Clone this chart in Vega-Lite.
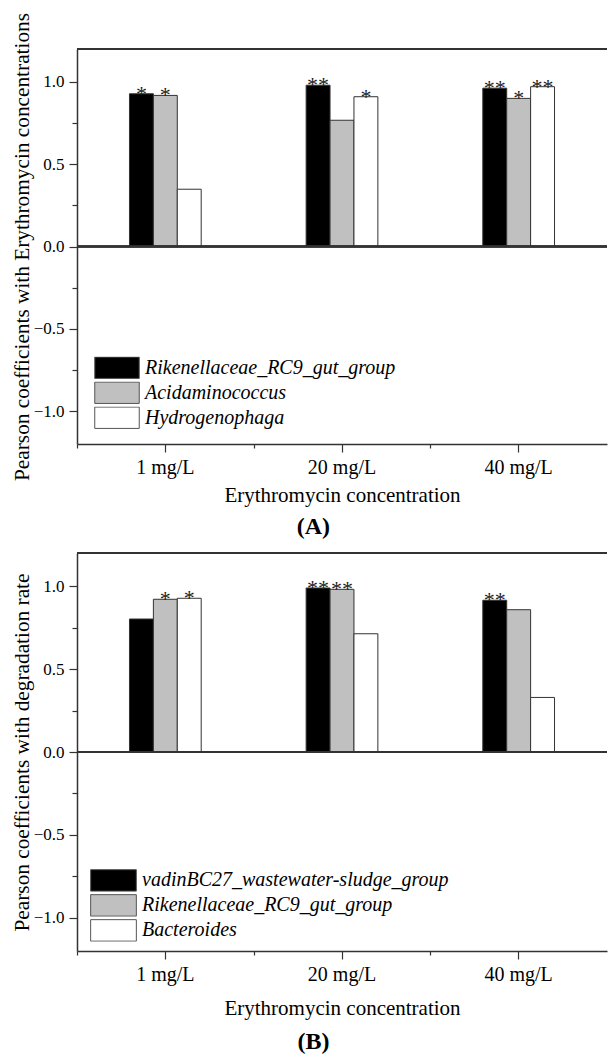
{
  "$schema": "https://vega.github.io/schema/vega-lite/v6.json",
  "background": "white",
  "padding": {"left": 11, "top": 12, "right": 0, "bottom": 0},
  "datasets": {
    "A": [
      {"conc": "1 mg/L", "species": "Rikenellaceae_RC9_gut_group", "value": 0.928, "sig": "*"},
      {"conc": "1 mg/L", "species": "Acidaminococcus", "value": 0.918, "sig": "*"},
      {"conc": "1 mg/L", "species": "Hydrogenophaga", "value": 0.348, "sig": ""},
      {"conc": "20 mg/L", "species": "Rikenellaceae_RC9_gut_group", "value": 0.98, "sig": "**"},
      {"conc": "20 mg/L", "species": "Acidaminococcus", "value": 0.767, "sig": ""},
      {"conc": "20 mg/L", "species": "Hydrogenophaga", "value": 0.91, "sig": "*"},
      {"conc": "40 mg/L", "species": "Rikenellaceae_RC9_gut_group", "value": 0.962, "sig": "**"},
      {"conc": "40 mg/L", "species": "Acidaminococcus", "value": 0.9, "sig": "*"},
      {"conc": "40 mg/L", "species": "Hydrogenophaga", "value": 0.971, "sig": "**"}
    ],
    "B": [
      {"conc": "1 mg/L", "species": "vadinBC27_wastewater-sludge_group", "value": 0.802, "sig": ""},
      {"conc": "1 mg/L", "species": "Rikenellaceae_RC9_gut_group", "value": 0.921, "sig": "*"},
      {"conc": "1 mg/L", "species": "Bacteroides", "value": 0.927, "sig": "*"},
      {"conc": "20 mg/L", "species": "vadinBC27_wastewater-sludge_group", "value": 0.989, "sig": "**"},
      {"conc": "20 mg/L", "species": "Rikenellaceae_RC9_gut_group", "value": 0.981, "sig": "**"},
      {"conc": "20 mg/L", "species": "Bacteroides", "value": 0.713, "sig": ""},
      {"conc": "40 mg/L", "species": "vadinBC27_wastewater-sludge_group", "value": 0.915, "sig": "**"},
      {"conc": "40 mg/L", "species": "Rikenellaceae_RC9_gut_group", "value": 0.858, "sig": ""},
      {"conc": "40 mg/L", "species": "Bacteroides", "value": 0.329, "sig": ""}
    ]
  },
  "spacing": 109,
  "bounds": "flush",
  "resolve": {
    "scale": {"color": "independent", "xOffset": "independent", "x": "independent", "y": "independent"},
    "legend": {"color": "independent"}
  },
  "vconcat": [
    {
      "width": 530,
      "height": 395,
      "data": {"name": "A"},
      "title": {"text": "(A)", "orient": "bottom", "anchor": "middle", "frame": "bounds", "offset": 10, "dx": 4, "font": "Liberation Serif", "fontSize": 24, "fontWeight": "bold", "color": "#000"},
      "resolve": {"axis": {"x": "independent", "y": "independent"}},
      "layer": [
        {
          "mark": {"type": "bar", "stroke": "#333", "strokeWidth": 1},
          "encoding": {
            "x": {"field": "conc", "type": "nominal", "sort": ["1 mg/L", "20 mg/L", "40 mg/L"], "scale": {"paddingInner": 0.594, "paddingOuter": 0.297},
              "axis": {"orient": "bottom", "title": "Erythromycin concentration", "titleFontSize": 21, "titlePadding": 7, "labelFontSize": 20, "labelPadding": 5, "labelAngle": 0, "tickSize": 8}},
            "xOffset": {"field": "species", "type": "nominal", "scale": {"domain": ["Rikenellaceae_RC9_gut_group", "Acidaminococcus", "Hydrogenophaga"], "paddingInner": 0, "paddingOuter": 0}},
            "y": {"field": "value", "type": "quantitative", "scale": {"domain": [-1.2, 1.2], "nice": false, "zero": false},
              "axis": {"orient": "left", "values": [-1, -0.5, 0, 0.5, 1], "format": ".1f", "tickSize": 8, "labelFontSize": 17, "labelPadding": 5, "title": "Pearson coefficients with Erythromycin concentrations", "titleFontSize": 21.3, "titlePadding": 1}},
            "color": {"field": "species", "type": "nominal", "scale": {"domain": ["Rikenellaceae_RC9_gut_group", "Acidaminococcus", "Hydrogenophaga"], "range": ["#000000", "#c0c0c0", "#ffffff"]},
              "legend": {"title": null, "orient": "none", "legendX": 17, "legendY": 307.5, "clipHeight": 22.5, "symbolType": "M-1,-0.48H1V0.48H-1Z", "symbolSize": 1980, "symbolStrokeColor": "#555", "symbolStrokeWidth": 1, "symbolOpacity": 1, "labelFont": "Liberation Serif", "labelFontStyle": "italic", "labelFontSize": 20, "labelColor": "#000", "labelOffset": 5, "rowPadding": 2, "labelLimit": 500}}
          }
        },
        {
          "mark": {"type": "text", "font": "Liberation Serif", "fontSize": 22, "baseline": "alphabetic", "align": "center", "dy": 7, "color": "#222"},
          "encoding": {
            "x": {"field": "conc", "type": "nominal", "sort": ["1 mg/L", "20 mg/L", "40 mg/L"], "scale": {"paddingInner": 0.594, "paddingOuter": 0.297},
              "axis": {"orient": "bottom", "title": null, "labels": false, "domain": false, "tickSize": 4, "tickOffset": -88.33}},
            "xOffset": {"field": "species", "type": "nominal", "scale": {"domain": ["Rikenellaceae_RC9_gut_group", "Acidaminococcus", "Hydrogenophaga"], "paddingInner": 0, "paddingOuter": 0}},
            "y": {"field": "value", "type": "quantitative", "scale": {"domain": [-1.2, 1.2], "nice": false, "zero": false},
              "axis": {"orient": "left", "values": [-0.75, -0.25, 0.25, 0.75], "labels": false, "domain": false, "tickSize": 5, "title": null}},
            "text": {"field": "sig"}
          }
        },
        {
          "mark": {"type": "rule", "color": "#333", "strokeWidth": 1.5},
          "encoding": {"y": {"datum": 0, "type": "quantitative", "scale": {"domain": [-1.2, 1.2], "nice": false, "zero": false}, "axis": null}}
        },
        {
          "mark": {"type": "rule", "color": "#333", "strokeWidth": 1.5},
          "encoding": {"y": {"datum": 1.2, "type": "quantitative", "scale": {"domain": [-1.2, 1.2], "nice": false, "zero": false}, "axis": null}}
        }
      ]
    },
    {
      "width": 530,
      "height": 398,
      "data": {"name": "B"},
      "title": {"text": "(B)", "orient": "bottom", "anchor": "middle", "frame": "bounds", "offset": 12, "dx": 4, "font": "Liberation Serif", "fontSize": 24, "fontWeight": "bold", "color": "#000"},
      "resolve": {"axis": {"x": "independent", "y": "independent"}},
      "layer": [
        {
          "mark": {"type": "bar", "stroke": "#333", "strokeWidth": 1},
          "encoding": {
            "x": {"field": "conc", "type": "nominal", "sort": ["1 mg/L", "20 mg/L", "40 mg/L"], "scale": {"paddingInner": 0.594, "paddingOuter": 0.297},
              "axis": {"orient": "bottom", "title": "Erythromycin concentration", "titleFontSize": 21, "titlePadding": 13, "labelFontSize": 20, "labelPadding": 5, "labelAngle": 0, "tickSize": 8}},
            "xOffset": {"field": "species", "type": "nominal", "scale": {"domain": ["vadinBC27_wastewater-sludge_group", "Rikenellaceae_RC9_gut_group", "Bacteroides"], "paddingInner": 0, "paddingOuter": 0}},
            "y": {"field": "value", "type": "quantitative", "scale": {"domain": [-1.2, 1.2], "nice": false, "zero": false},
              "axis": {"orient": "left", "values": [-1, -0.5, 0, 0.5, 1], "format": ".1f", "tickSize": 8, "labelFontSize": 17, "labelPadding": 5, "title": "Pearson coefficients with degradation rate", "titleFontSize": 21.3, "titlePadding": 1}},
            "color": {"field": "species", "type": "nominal", "scale": {"domain": ["vadinBC27_wastewater-sludge_group", "Rikenellaceae_RC9_gut_group", "Bacteroides"], "range": ["#000000", "#c0c0c0", "#ffffff"]},
              "legend": {"title": null, "orient": "none", "legendX": 13, "legendY": 316, "clipHeight": 22.8, "symbolType": "M-1,-0.47H1V0.47H-1Z", "symbolSize": 2088, "symbolStrokeColor": "#555", "symbolStrokeWidth": 1, "symbolOpacity": 1, "labelFont": "Liberation Serif", "labelFontStyle": "italic", "labelFontSize": 20, "labelColor": "#000", "labelOffset": 5, "rowPadding": 2, "labelLimit": 500}}
          }
        },
        {
          "mark": {"type": "text", "font": "Liberation Serif", "fontSize": 22, "baseline": "alphabetic", "align": "center", "dy": 7, "color": "#222"},
          "encoding": {
            "x": {"field": "conc", "type": "nominal", "sort": ["1 mg/L", "20 mg/L", "40 mg/L"], "scale": {"paddingInner": 0.594, "paddingOuter": 0.297},
              "axis": {"orient": "bottom", "title": null, "labels": false, "domain": false, "tickSize": 4, "tickOffset": -88.33}},
            "xOffset": {"field": "species", "type": "nominal", "scale": {"domain": ["vadinBC27_wastewater-sludge_group", "Rikenellaceae_RC9_gut_group", "Bacteroides"], "paddingInner": 0, "paddingOuter": 0}},
            "y": {"field": "value", "type": "quantitative", "scale": {"domain": [-1.2, 1.2], "nice": false, "zero": false},
              "axis": {"orient": "left", "values": [-0.75, -0.25, 0.25, 0.75], "labels": false, "domain": false, "tickSize": 5, "title": null}},
            "text": {"field": "sig"}
          }
        },
        {
          "mark": {"type": "rule", "color": "#333", "strokeWidth": 1.5},
          "encoding": {"y": {"datum": 0, "type": "quantitative", "scale": {"domain": [-1.2, 1.2], "nice": false, "zero": false}, "axis": null}}
        },
        {
          "mark": {"type": "rule", "color": "#333", "strokeWidth": 1.5},
          "encoding": {"y": {"datum": 1.2, "type": "quantitative", "scale": {"domain": [-1.2, 1.2], "nice": false, "zero": false}, "axis": null}}
        }
      ]
    }
  ],
  "config": {
    "view": {"stroke": null},
    "font": "Liberation Serif",
    "axis": {"grid": false, "domainColor": "#333", "domainWidth": 1.5, "tickColor": "#333", "tickWidth": 1.2, "labelColor": "#000", "titleColor": "#000", "labelFont": "Liberation Serif", "titleFont": "Liberation Serif", "titleFontWeight": "normal"}
  }
}
